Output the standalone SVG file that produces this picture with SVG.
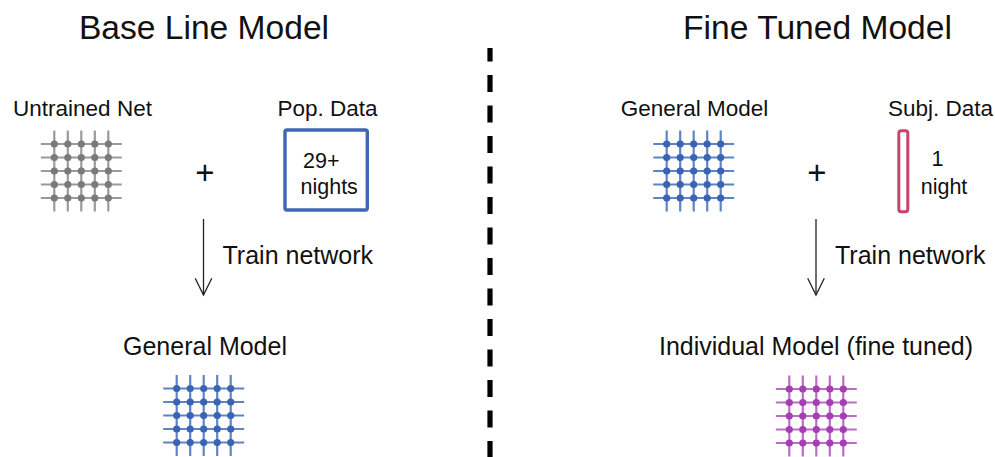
<svg xmlns="http://www.w3.org/2000/svg" xmlns:xlink="http://www.w3.org/1999/xlink" width="995" height="457" viewBox="0 0 995 457">
<style>
text{font-family:"Liberation Sans",Arial,sans-serif;fill:#111}
.title{font-size:33.6px;text-anchor:middle}
.lbl{font-size:22.5px;text-anchor:middle}
.lbl2{font-size:25px}
.box{font-size:21.5px}
.plus{font-size:33px;text-anchor:middle}
.grey{stroke:#9a9a9a;color:#7a7a7a}
.blue{stroke:#5f83c6;color:#3a63b3}
.purple{stroke:#bd6bc8;color:#a43fb2}
.arrow{stroke:#222;stroke-width:1.3;fill:none;marker-end:url(#ah)}
</style>
<defs>
<marker id="ah" markerUnits="userSpaceOnUse" orient="auto" refX="0" refY="0" overflow="visible">
<path d="M-16.7,-8.3 L0,0 L-16.7,8.3" fill="none" stroke="#222" stroke-width="1.3"/>
</marker>
<g id="grid">
<g stroke-width="2.2">
<line x1="-13.5" y1="0" x2="67.5" y2="0"/>
<line x1="-13.5" y1="13.5" x2="67.5" y2="13.5"/>
<line x1="-13.5" y1="27" x2="67.5" y2="27"/>
<line x1="-13.5" y1="40.5" x2="67.5" y2="40.5"/>
<line x1="-13.5" y1="54" x2="67.5" y2="54"/>
<line x1="0" y1="-13.5" x2="0" y2="67.5"/>
<line x1="13.5" y1="-13.5" x2="13.5" y2="67.5"/>
<line x1="27" y1="-13.5" x2="27" y2="67.5"/>
<line x1="40.5" y1="-13.5" x2="40.5" y2="67.5"/>
<line x1="54" y1="-13.5" x2="54" y2="67.5"/>
</g>
<g fill="currentColor" stroke="none">
<circle cx="0" cy="0" r="3.6"/><circle cx="13.5" cy="0" r="3.6"/><circle cx="27" cy="0" r="3.6"/><circle cx="40.5" cy="0" r="3.6"/><circle cx="54" cy="0" r="3.6"/>
<circle cx="0" cy="13.5" r="3.6"/><circle cx="13.5" cy="13.5" r="3.6"/><circle cx="27" cy="13.5" r="3.6"/><circle cx="40.5" cy="13.5" r="3.6"/><circle cx="54" cy="13.5" r="3.6"/>
<circle cx="0" cy="27" r="3.6"/><circle cx="13.5" cy="27" r="3.6"/><circle cx="27" cy="27" r="3.6"/><circle cx="40.5" cy="27" r="3.6"/><circle cx="54" cy="27" r="3.6"/>
<circle cx="0" cy="40.5" r="3.6"/><circle cx="13.5" cy="40.5" r="3.6"/><circle cx="27" cy="40.5" r="3.6"/><circle cx="40.5" cy="40.5" r="3.6"/><circle cx="54" cy="40.5" r="3.6"/>
<circle cx="0" cy="54" r="3.6"/><circle cx="13.5" cy="54" r="3.6"/><circle cx="27" cy="54" r="3.6"/><circle cx="40.5" cy="54" r="3.6"/><circle cx="54" cy="54" r="3.6"/>
</g>
</g>
</defs>
<rect width="995" height="457" fill="#fff"/>

<g id="titles">
<text class="title" x="204" y="39">Base Line Model</text>
<text class="title" x="817.5" y="39">Fine Tuned Model</text>
</g>

<g id="divider">
<line x1="490" y1="48" x2="490" y2="457" stroke="#000" stroke-width="5.2" stroke-dasharray="17 13.5" stroke-dashoffset="3.5"/>
</g>

<g id="untrained-net">
<text class="lbl" x="82.5" y="116">Untrained Net</text>
<use xlink:href="#grid" class="grey" x="54.3" y="144"/>
</g>

<g id="plus-left"><text class="plus" x="205" y="184">+</text></g>

<g id="pop-data">
<text class="lbl" x="327.5" y="116">Pop. Data</text>
<rect x="285" y="130" width="82.3" height="80" rx="2" fill="#fff" stroke="#3e66b4" stroke-width="3.4"/>
<text class="box" x="303" y="168">29+</text>
<text class="box" x="300.5" y="194">nights</text>
</g>

<g id="general-model-top">
<text class="lbl" x="694.5" y="116">General Model</text>
<use xlink:href="#grid" class="blue" x="666.7" y="144"/>
</g>

<g id="plus-right"><text class="plus" x="817" y="184">+</text></g>

<g id="subj-data">
<text class="lbl" x="940.5" y="116">Subj. Data</text>
<rect x="898.8" y="130.8" width="9" height="81" rx="2.5" fill="#fff" stroke="#c8436e" stroke-width="3"/>
<text class="box" x="937.5" y="166" text-anchor="middle">1</text>
<text class="box" x="944" y="193.5" text-anchor="middle">night</text>
</g>

<g id="connectors">
<line class="arrow" x1="203.5" y1="219" x2="203.5" y2="295"/>
<line class="arrow" x1="816" y1="219" x2="816" y2="295"/>
</g>

<g id="train-labels">
<text class="lbl2" x="222.5" y="264">Train network</text>
<text class="lbl2" x="835" y="264">Train network</text>
</g>

<g id="general-model-bottom">
<text class="lbl2" x="205" y="355" text-anchor="middle">General Model</text>
<use xlink:href="#grid" class="blue" x="176.7" y="388.5"/>
</g>

<g id="individual-model">
<text class="lbl2" x="816" y="355" text-anchor="middle">Individual Model (fine tuned)</text>
<use xlink:href="#grid" class="purple" x="789.3" y="389"/>
</g>
</svg>
